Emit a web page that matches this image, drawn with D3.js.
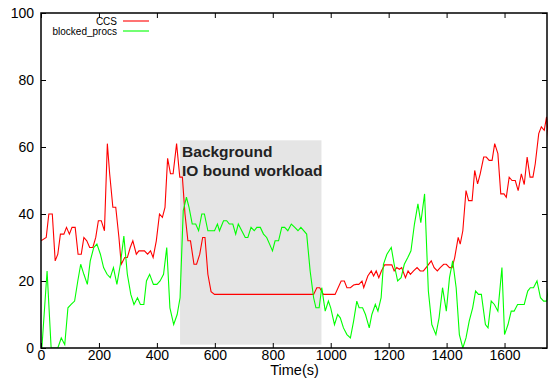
<!DOCTYPE html>
<html>
<head>
<meta charset="utf-8">
<script src="https://cdn.jsdelivr.net/npm/d3@7"></script>
<style>
  body { margin: 0; background: #fff; }
  text { font-family: "Liberation Sans", Arial, sans-serif; }
</style>
</head>
<body>
<div id="chart"></div>
<script>
// CCS series (time in s, value)
const ccsTime = [0, 18, 27, 39, 49, 58, 67, 79, 88, 98, 107, 118, 128, 139, 148, 158, 168, 179, 189, 198, 208, 219, 229, 237, 248, 258, 269, 277, 289, 298, 308, 317, 329, 338, 348, 357, 368, 378, 387, 398, 409, 419, 428, 437, 447, 456, 468, 479, 488, 497, 507, 516, 528, 537, 548, 558, 566, 576, 587, 599, 700, 800, 900, 941, 952, 962, 975, 1015, 1036, 1047, 1056, 1068, 1079, 1088, 1097, 1108, 1114, 1128, 1140, 1148, 1157, 1166, 1175, 1186, 1200, 1211, 1219, 1228, 1237, 1245, 1258, 1267, 1275, 1286, 1298, 1309, 1320, 1332, 1347, 1357, 1368, 1378, 1390, 1399, 1410, 1419, 1428, 1440, 1447, 1456, 1467, 1476, 1488, 1497, 1507, 1516, 1528, 1537, 1547, 1557, 1566, 1577, 1587, 1598, 1606, 1616, 1626, 1637, 1647, 1658, 1668, 1678, 1688, 1698, 1706, 1718, 1727, 1737, 1745, 1752];
const ccsValue = [32, 33, 40, 40, 26, 28, 34, 34, 36, 34, 36, 36, 28, 28, 33, 32, 30, 30, 33, 38, 38, 35, 61, 52, 42, 42, 33, 25, 27, 27, 30, 32, 28, 29, 29, 29, 28, 29, 27, 32, 40, 39, 42, 56.6, 52, 52, 61, 51, 51, 40, 32, 32, 25, 25, 28, 33, 33, 22, 16.8, 16, 16, 16, 16, 16, 18, 18, 16, 16, 20, 20, 18, 18, 18.8, 19, 19, 20, 18, 21.5, 23, 21.5, 23, 21, 23, 24.8, 24.8, 24.8, 23, 24, 23.5, 24, 21, 23, 22, 23, 24, 23, 23, 24.3, 26, 24, 23, 24, 25, 25, 24, 24, 27, 33, 31, 35, 47, 44, 44, 53, 49, 52, 57, 57, 56, 56, 61, 58, 46, 46, 45, 51, 50, 50, 47, 52, 48.8, 57, 51, 51, 55, 64, 66, 65, 69, 62.6];

// blocked_procs series
const procTime = [3, 21, 35, 58, 70, 82, 93, 104, 116, 127, 137, 148, 160, 170, 182, 193, 205, 216, 228, 239, 250, 262, 274, 286, 298, 310, 321, 333, 343, 355, 364, 375, 388, 400, 411, 423, 434, 445, 458, 470, 480, 491, 502, 511, 522, 534, 544, 555, 564, 576, 587, 599, 609, 616, 630, 641, 650, 662, 672, 681, 693, 705, 714, 725, 736, 745, 757, 768, 779, 789, 799, 808, 820, 831, 841, 852, 864, 876, 887, 897, 917, 929, 941, 949, 960, 969, 981, 992, 1000, 1013, 1024, 1033, 1044, 1056, 1068, 1079, 1090, 1098, 1110, 1120, 1133, 1142, 1154, 1163, 1174, 1182, 1194, 1209, 1219, 1231, 1243, 1254, 1266, 1277, 1289, 1301, 1311, 1324, 1337, 1349, 1363, 1374, 1386, 1399, 1410, 1421, 1433, 1444, 1456, 1467, 1478, 1490, 1500, 1510, 1520, 1534, 1543, 1554, 1565, 1577, 1591, 1600, 1612, 1623, 1633, 1645, 1656, 1668, 1680, 1689, 1700, 1712, 1724, 1735, 1745, 1752];
const procValue = [0, 23, 0, 0, 3, 1, 12, 13, 14, 20, 25, 22, 19, 26, 30, 31, 28, 24, 22, 21, 24, 19, 25, 33.4, 22, 16, 13, 15, 13, 13, 20, 22, 19, 19, 20, 22, 30, 12, 7, 10, 15, 41, 45, 42, 37, 37, 35, 40, 40, 35, 35, 35, 37, 35, 38, 38, 37, 37, 34, 37, 35, 33, 33, 36, 35, 36, 36, 34, 33, 31, 29, 32, 32, 36, 36, 35, 37, 36, 35, 36, 34, 23, 15, 12, 12, 18, 11, 14, 12, 7, 10, 9, 6, 4, 3, 8, 14, 12, 12, 10, 6, 10, 13, 11, 15, 25, 28, 30, 25, 20, 21, 25, 27, 29, 37, 43, 37.4, 46, 17, 7, 4, 9, 18, 11, 21, 26, 18, 4, 0, 3, 8, 12, 17, 16, 16, 7, 6, 14, 13, 11, 24, 4, 7, 11, 11, 13, 13, 13, 17, 18, 18, 20, 15, 14, 14, 18];

const xTicks = [0, 200, 400, 600, 800, 1000, 1200, 1400, 1600];
const yTicks = [0, 20, 40, 60, 80, 100];
const shadeSpan = [480, 968];
const shadeRange = [1, 62];
const noteLines = ["Background", "IO bound workload"];
const seriesNames = ["CCS", "blocked_procs"];

const W = 548, H = 378;
const margin = { top: 13, right: 0, bottom: 30, left: 41 };
const width = W - margin.left - margin.right;
const height = H - margin.top - margin.bottom;

const svg = d3.select("#chart")
  .append("svg")
  .attr("width", W)
  .attr("height", H)
  .append("g")
  .attr("transform", `translate(${margin.left},${margin.top})`);

const x = d3.scaleLinear().domain([0, 1750]).range([0, width]);
const y = d3.scaleLinear().domain([0, 100]).range([height, 0]);

// shaded region
svg.append("rect")
  .attr("x", x(shadeSpan[0]))
  .attr("y", y(shadeRange[1]))
  .attr("width", x(shadeSpan[1]) - x(shadeSpan[0]))
  .attr("height", y(shadeRange[0]) - y(shadeRange[1]))
  .attr("fill", "#e5e5e5");

svg.selectAll(".note")
  .data(noteLines)
  .join("text")
  .attr("x", x(shadeSpan[0]) + 2)
  .attr("y", (d, i) => y(shadeRange[1]) + 17 + i * 19)
  .attr("font-size", 15.5)
  .attr("font-weight", "bold")
  .attr("fill", "#222")
  .text(d => d);

const line = d3.line().x(d => x(d[0])).y(d => y(d[1]));
const ccs = ccsTime.map((t, i) => [t, ccsValue[i]]);
const procs = procTime.map((t, i) => [t, procValue[i]]);

svg.append("clipPath").attr("id", "clip")
  .append("rect").attr("width", width).attr("height", height);

svg.append("path")
  .datum(ccs)
  .attr("d", line)
  .attr("clip-path", "url(#clip)")
  .attr("fill", "none")
  .attr("stroke", "#ff0000")
  .attr("stroke-width", 1.1);

svg.append("path")
  .datum(procs)
  .attr("d", line)
  .attr("clip-path", "url(#clip)")
  .attr("fill", "none")
  .attr("stroke", "#00ff00")
  .attr("stroke-width", 1.1);

// axes, gnuplot style: ticks inward on all four sides
const tickStyle = g => {
  g.select(".domain").remove();
  g.selectAll("line").attr("stroke", "#000").attr("stroke-width", 1);
  g.selectAll("text").attr("font-size", 14).attr("fill", "#000");
};

svg.append("g")
  .attr("transform", `translate(0,${height})`)
  .call(d3.axisBottom(x).tickValues(xTicks).tickFormat(d3.format("d")).tickSizeInner(-5).tickSizeOuter(0).tickPadding(2))
  .call(tickStyle);

svg.append("g")
  .call(d3.axisTop(x).tickValues(xTicks).tickSizeInner(-5).tickSizeOuter(0).tickFormat(""))
  .call(tickStyle);

svg.append("g")
  .call(d3.axisLeft(y).tickValues(yTicks).tickSizeInner(-5).tickSizeOuter(0).tickPadding(7))
  .call(tickStyle);

svg.append("g")
  .attr("transform", `translate(${width - 1},0)`)
  .call(d3.axisRight(y).tickValues(yTicks).tickSizeInner(-5).tickSizeOuter(0).tickFormat(""))
  .call(tickStyle);

svg.append("rect")
  .attr("x", 0).attr("y", 0)
  .attr("width", width - 1).attr("height", height)
  .attr("fill", "none")
  .attr("stroke", "#000")
  .attr("stroke-width", 1.5);

svg.append("text")
  .attr("x", width / 2)
  .attr("y", height + 27)
  .attr("text-anchor", "middle")
  .attr("font-size", 14.5)
  .text("Time(s)");

// legend
const legend = svg.append("g").attr("transform", "translate(76,8)");
const colors = ["#ff0000", "#00ff00"];
seriesNames.forEach((name, i) => {
  legend.append("text")
    .attr("x", 0)
    .attr("y", i * 10 + 4)
    .attr("text-anchor", "end")
    .attr("font-size", 10)
    .text(name);
  legend.append("line")
    .attr("x1", 6).attr("x2", 32)
    .attr("y1", i * 10).attr("y2", i * 10)
    .attr("stroke", colors[i])
    .attr("stroke-width", 1.1);
});
</script>
</body>
</html>
